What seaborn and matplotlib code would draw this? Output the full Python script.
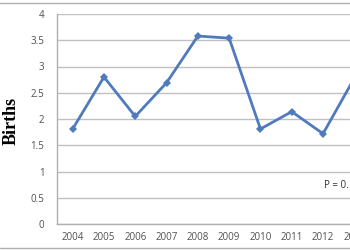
import matplotlib
matplotlib.use("Agg")
import matplotlib.pyplot as plt
import seaborn as sns
import pandas as pd
from matplotlib.lines import Line2D

years = ["2004", "2005", "2006", "2007", "2008", "2009", "2010", "2011", "2012", "2013"]
births = [1.81, 2.80, 2.05, 2.69, 3.58, 3.54, 1.81, 2.14, 1.72, 2.78]
y_ticks = [0, 0.5, 1, 1.5, 2, 2.5, 3, 3.5, 4]
y_tick_labels = ["0", "0.5", "1", "1.5", "2", "2.5", "3", "3.5", "4"]

df = pd.DataFrame({"Year": years, "Births": births})

sns.set_style("white")
plt.rcParams["font.family"] = ["Open Sans", "DejaVu Sans"]

fig = plt.figure(figsize=(3.5, 2.5), dpi=100)
W, H = 350, 250
left_px, top_px, bottom_px = 57, 14, 224
width_px = 31.3 * len(years)
ax = fig.add_axes([left_px / W, (H - bottom_px) / H, width_px / W, (bottom_px - top_px) / H])

sns.lineplot(data=df, x="Year", y="Births", ax=ax, color="#4f7bbd",
             linewidth=2.0, marker="D", markersize=4, markeredgewidth=0, sort=False)

ax.set_xlim(-0.5, len(years) - 0.5)
ax.set_ylim(0, 4)
ax.set_yticks(y_ticks)
ax.set_yticklabels(y_tick_labels)
ax.yaxis.grid(True, color="#c0c0c0", linewidth=1.0)
ax.set_axisbelow(True)
for s in ["top", "right"]:
    ax.spines[s].set_visible(False)
for s in ["left", "bottom"]:
    ax.spines[s].set_color("#b0b0b0")
    ax.spines[s].set_linewidth(1.0)
ax.tick_params(axis="both", length=0, labelsize=7, colors="#505050", pad=6)
ax.tick_params(axis="y", pad=9)
ax.set_xlabel("")
ax.set_ylabel("")
fig.text(11.5 / W, (H - 120.5) / H, "Births", rotation=90, ha="center", va="center",
         fontsize=13, fontweight="bold", family=["Liberation Serif"], color="black")

ax.text(324 / W, (H - 186) / H, "P = 0.", transform=fig.transFigure, fontsize=7,
        color="#303030", va="center", ha="left")

fig.add_artist(Line2D([0, 1], [1 - 3 / H, 1 - 3 / H], transform=fig.transFigure, color="#b0b0b0", linewidth=1))
fig.add_artist(Line2D([0, 1], [2 / H, 2 / H], transform=fig.transFigure, color="#b0b0b0", linewidth=1))

fig.savefig("out.png", dpi=100)
